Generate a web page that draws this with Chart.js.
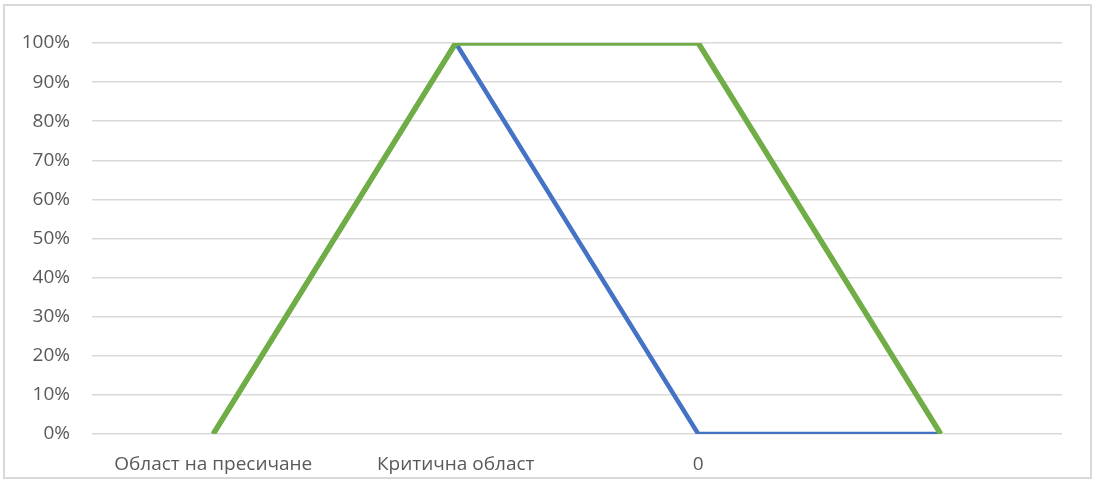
<!DOCTYPE html>
<html>
<head>
<meta charset="utf-8">
<script src="https://cdn.jsdelivr.net/npm/chart.js@4"></script>
<style>
  body { margin: 0; background: #fff; }
  #wrap {
    position: absolute; left: 3px; top: 4px;
    width: 1085px; height: 471px;
    border: 2px solid #d9d9d9;
  }
</style>
</head>
<body>
<div id="wrap"><canvas id="chart" width="1085" height="471"></canvas></div>
<script>
const categories = ["Област на пресичане", "Критична област", "0", ""];
const blueValues = [0, 1, 0, 0];
const greenValues = [0, 1, 1, 0];

const ctx = document.getElementById("chart").getContext("2d");
new Chart(ctx, {
  type: "line",
  data: {
    labels: categories,
    datasets: [
      {
        label: "Серия 1",
        data: blueValues,
        borderColor: "#4472c4",
        borderWidth: 4.5,
        pointRadius: 0,
        tension: 0,
        order: 1,
      },
      {
        label: "Серия 2",
        data: greenValues,
        borderColor: "#70ad47",
        borderWidth: 5.5,
        pointRadius: 0,
        tension: 0,
        order: 0,
      },
    ],
  },
  options: {
    responsive: false,
    animation: false,
    layout: { padding: { top: 37, right: 28, left: 0, bottom: 0 } },
    plugins: { legend: { display: false }, tooltip: { enabled: false } },
    scales: {
      x: {
        offset: true,
        grid: { display: false },
        border: { display: false },
        ticks: {
          color: "#595959",
          font: { family: "Open Sans", size: 19 },
          padding: 11,
          maxRotation: 0,
          autoSkip: false,
        },
        afterFit: (scale) => { scale.height = 43; },
      },
      y: {
        min: 0,
        max: 1,
        grid: { color: "#d9d9d9", lineWidth: 1.5, drawTicks: false },
        border: { display: false },
        ticks: {
          stepSize: 0.1,
          color: "#595959",
          font: { family: "Open Sans", size: 19 },
          padding: 22,
          callback: (v) => Math.round(v * 100) + "%",
        },
        afterFit: (scale) => { scale.width = 87; },
      },
    },
  },
});
</script>
</body>
</html>
